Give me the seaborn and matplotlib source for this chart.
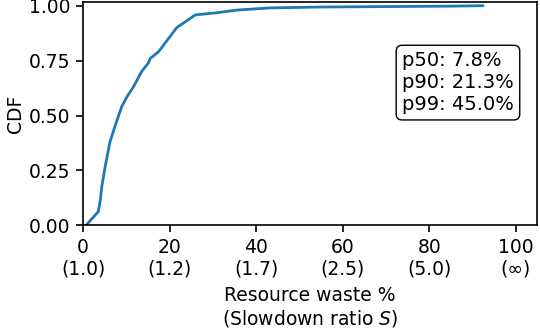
import matplotlib
matplotlib.use("Agg")
import matplotlib.pyplot as plt
import seaborn as sns
import pandas as pd

# CDF of resource waste
waste_pct = [0.0, 0.7, 2.0, 3.5, 4.0, 4.3, 5.2, 6.2, 7.5, 8.9, 10.1, 11.6, 13.5,
             15.1, 15.5, 17.4, 19.7, 21.6, 23.6, 25.9, 30.9, 35.5, 43.2, 55.0,
             70.0, 85.0, 92.4]
cdf = [0.0, 0.0, 0.03, 0.062, 0.12, 0.176, 0.28, 0.38, 0.46, 0.54, 0.585, 0.63,
       0.70, 0.74, 0.76, 0.79, 0.85, 0.90, 0.927, 0.958, 0.968, 0.98, 0.99,
       0.994, 0.996, 0.998, 1.0]

xticks = [0, 20, 40, 60, 80, 100]
xtick_labels = ["0\n(1.0)", "20\n(1.2)", "40\n(1.7)", "60\n(2.5)", "80\n(5.0)", "100\n(∞)"]
yticks = [0.0, 0.25, 0.5, 0.75, 1.0]
stats_text = "p50: 7.8%\np90: 21.3%\np99: 45.0%"

sns.set_style("ticks")
plt.rcParams["font.family"] = ["DejaVu Sans"]
plt.rcParams["mathtext.fontset"] = "dejavusans"
plt.rcParams["text.color"] = "black"
plt.rcParams["axes.labelcolor"] = "black"
plt.rcParams["xtick.color"] = "black"
plt.rcParams["ytick.color"] = "black"

FS = 13.5

df = pd.DataFrame({"waste": waste_pct, "cdf": cdf})

fig = plt.figure(figsize=(5.4, 3.28), dpi=100)
ax = fig.add_axes([0.154, 0.313, 0.840, 0.681])
sns.lineplot(data=df, x="waste", y="cdf", ax=ax, color="#1f77b4",
             linewidth=2.0, sort=False, estimator=None)

ax.set_xlim(0, 104.8)
ax.set_ylim(0, 1.017)
ax.set_xticks(xticks)
ax.set_xticklabels(xtick_labels, fontsize=FS)
ax.set_yticks(yticks)
ax.set_yticklabels([f"{v:.2f}" for v in yticks], fontsize=FS)
ax.set_xlabel("Resource waste %\n(Slowdown ratio $S$)", fontsize=FS, labelpad=5)
ax.set_ylabel("CDF", fontsize=FS, labelpad=3)
for s in ax.spines.values():
    s.set_linewidth(1.2)
    s.set_color("black")
ax.tick_params(length=5, width=1.2, color="black", pad=4)

ax.text(0.703, 0.78, stats_text, transform=ax.transAxes, fontsize=14,
        ha="left", va="top", linespacing=1.2,
        bbox=dict(boxstyle="round,pad=0.3", facecolor="white", edgecolor="black"))

fig.savefig("out.png", dpi=100)
